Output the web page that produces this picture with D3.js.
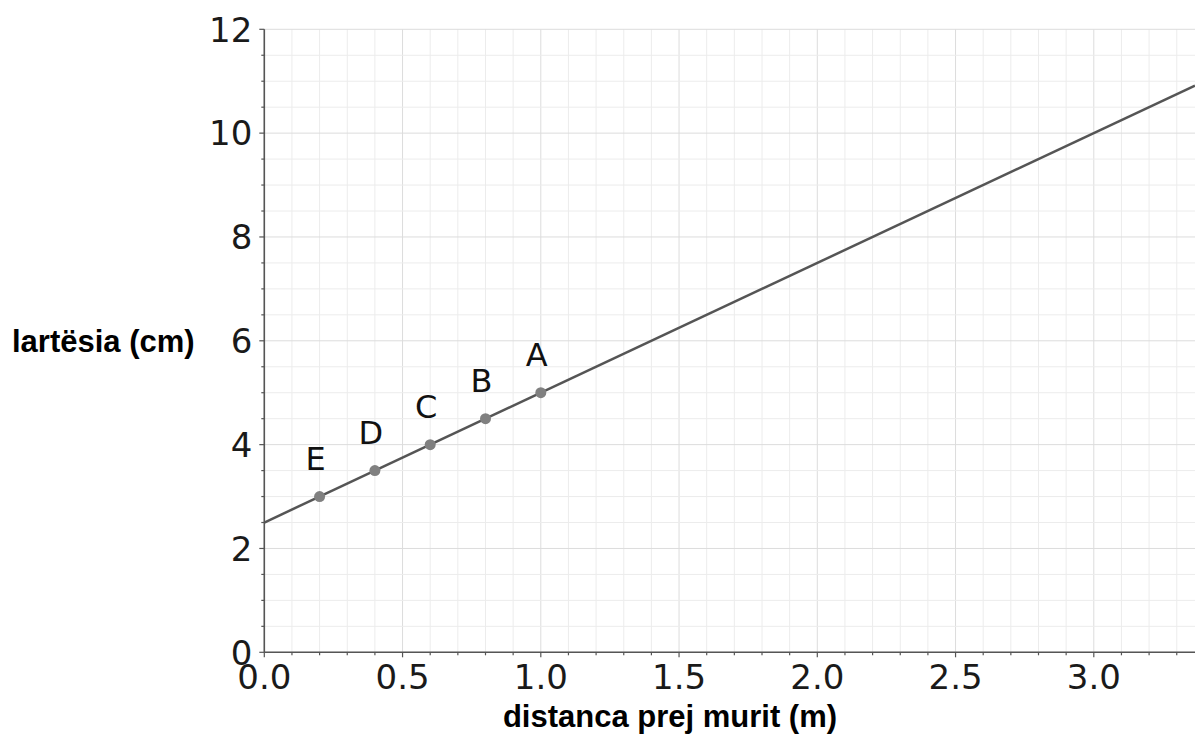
<!DOCTYPE html>
<html>
<head>
<meta charset="utf-8">
<script src="https://cdn.jsdelivr.net/npm/d3@7"></script>
<style>
  body { margin: 0; background: #fff; }
  svg { display: block; }
</style>
</head>
<body>
<svg id="chart"></svg>
<script>
// data
const pointNames = ["E", "D", "C", "B", "A"];
const distances = [0.2, 0.4, 0.6, 0.8, 1.0];
const heights = [3, 3.5, 4, 4.5, 5];
const lineIntercept = 2.5;   // cm at 0 m
const lineSlope = 2.5;       // cm per m
const xTicks = [0, 0.5, 1, 1.5, 2, 2.5, 3];
const yTicks = [0, 2, 4, 6, 8, 10, 12];

const width = 1195, height = 736;
const margin = { top: 29.3, right: 0, bottom: 83.7, left: 264.3 };
const xMax = 3.366;

const svg = d3.select("#chart").attr("width", width).attr("height", height);

const x = d3.scaleLinear().domain([0, xMax]).range([margin.left, width - margin.right]);
const y = d3.scaleLinear().domain([0, 12]).range([height - margin.bottom, margin.top]);

const isHalf = d => Math.abs(d * 2 - Math.round(d * 2)) < 1e-6;

// grid
const grid = svg.append("g");
const xMinor = d3.range(0, xMax + 0.001, 0.1);
const yMinor = d3.range(0, 12.001, 0.5);
grid.selectAll(".gx").data(xMinor).join("line")
    .attr("x1", d => x(d)).attr("x2", d => x(d))
    .attr("y1", y(0)).attr("y2", y(12))
    .attr("stroke", d => isHalf(d) ? "#dcdcdc" : "#ececec")
    .attr("stroke-width", 1);
grid.selectAll(".gy").data(yMinor).join("line")
    .attr("y1", d => y(d)).attr("y2", d => y(d))
    .attr("x1", x(0)).attr("x2", width)
    .attr("stroke", d => d % 2 === 0 ? "#dcdcdc" : "#ececec")
    .attr("stroke-width", 1);

// axes
const axisColor = "#555";
const xAxis = svg.append("g").attr("transform", `translate(0,${y(0)})`);
xAxis.append("line").attr("x1", x(0)).attr("x2", width).attr("stroke", axisColor).attr("stroke-width", 1.6);
xAxis.selectAll(".t").data(xMinor).join("line")
    .attr("x1", d => x(d)).attr("x2", d => x(d))
    .attr("y1", 0).attr("y2", d => isHalf(d) ? 5 : 3)
    .attr("stroke", axisColor).attr("stroke-width", 1.2);
xAxis.selectAll("text").data(xTicks).join("text")
    .attr("x", d => x(d)).attr("y", 37)
    .attr("text-anchor", "middle")
    .attr("font-family", "DejaVu Sans")
    .attr("font-size", 34)
    .attr("fill", "#1a1a1a")
    .text(d => d3.format(".1f")(d));

const yAxis = svg.append("g").attr("transform", `translate(${x(0)},0)`);
yAxis.append("line").attr("y1", y(0)).attr("y2", y(12)).attr("stroke", axisColor).attr("stroke-width", 1.6);
yAxis.selectAll(".t").data(yMinor).join("line")
    .attr("y1", d => y(d)).attr("y2", d => y(d))
    .attr("x1", 0).attr("x2", d => d % 2 === 0 ? -5 : -3)
    .attr("stroke", axisColor).attr("stroke-width", 1.2);
yAxis.selectAll("text").data(yTicks).join("text")
    .attr("x", -12).attr("y", d => y(d))
    .attr("dy", "0.36em")
    .attr("text-anchor", "end")
    .attr("font-family", "DejaVu Sans")
    .attr("font-size", 34)
    .attr("fill", "#1a1a1a")
    .text(d => d);

// fitted line
const lineXs = [0, xMax];
svg.append("path")
    .datum(lineXs)
    .attr("d", d3.line().x(d => x(d)).y(d => y(lineIntercept + lineSlope * d)))
    .attr("stroke", "#555").attr("stroke-width", 2.5).attr("fill", "none");

// points and labels
const pts = pointNames.map((n, i) => ({ name: n, d: distances[i], h: heights[i] }));
svg.selectAll("circle").data(pts).join("circle")
    .attr("cx", d => x(d.d)).attr("cy", d => y(d.h))
    .attr("r", 5.5).attr("fill", "#808080");
svg.selectAll(".lbl").data(pts).join("text")
    .attr("class", "lbl")
    .attr("x", d => x(d.d) - 4).attr("y", d => y(d.h) - 27)
    .attr("text-anchor", "middle")
    .attr("font-family", "DejaVu Sans")
    .attr("font-size", 32)
    .attr("fill", "#111")
    .text(d => d.name);

// axis titles
svg.append("text")
    .attr("x", 670).attr("y", 727)
    .attr("text-anchor", "middle")
    .attr("font-family", "Liberation Sans, Arial")
    .attr("font-weight", "bold")
    .attr("font-size", 31)
    .attr("fill", "#000")
    .text("distanca prej murit (m)");
svg.append("text")
    .attr("x", 12).attr("y", y(6) + 11)
    .attr("font-family", "Liberation Sans, Arial")
    .attr("font-weight", "bold")
    .attr("font-size", 31)
    .attr("fill", "#000")
    .text("lartësia (cm)");
</script>
</body>
</html>
